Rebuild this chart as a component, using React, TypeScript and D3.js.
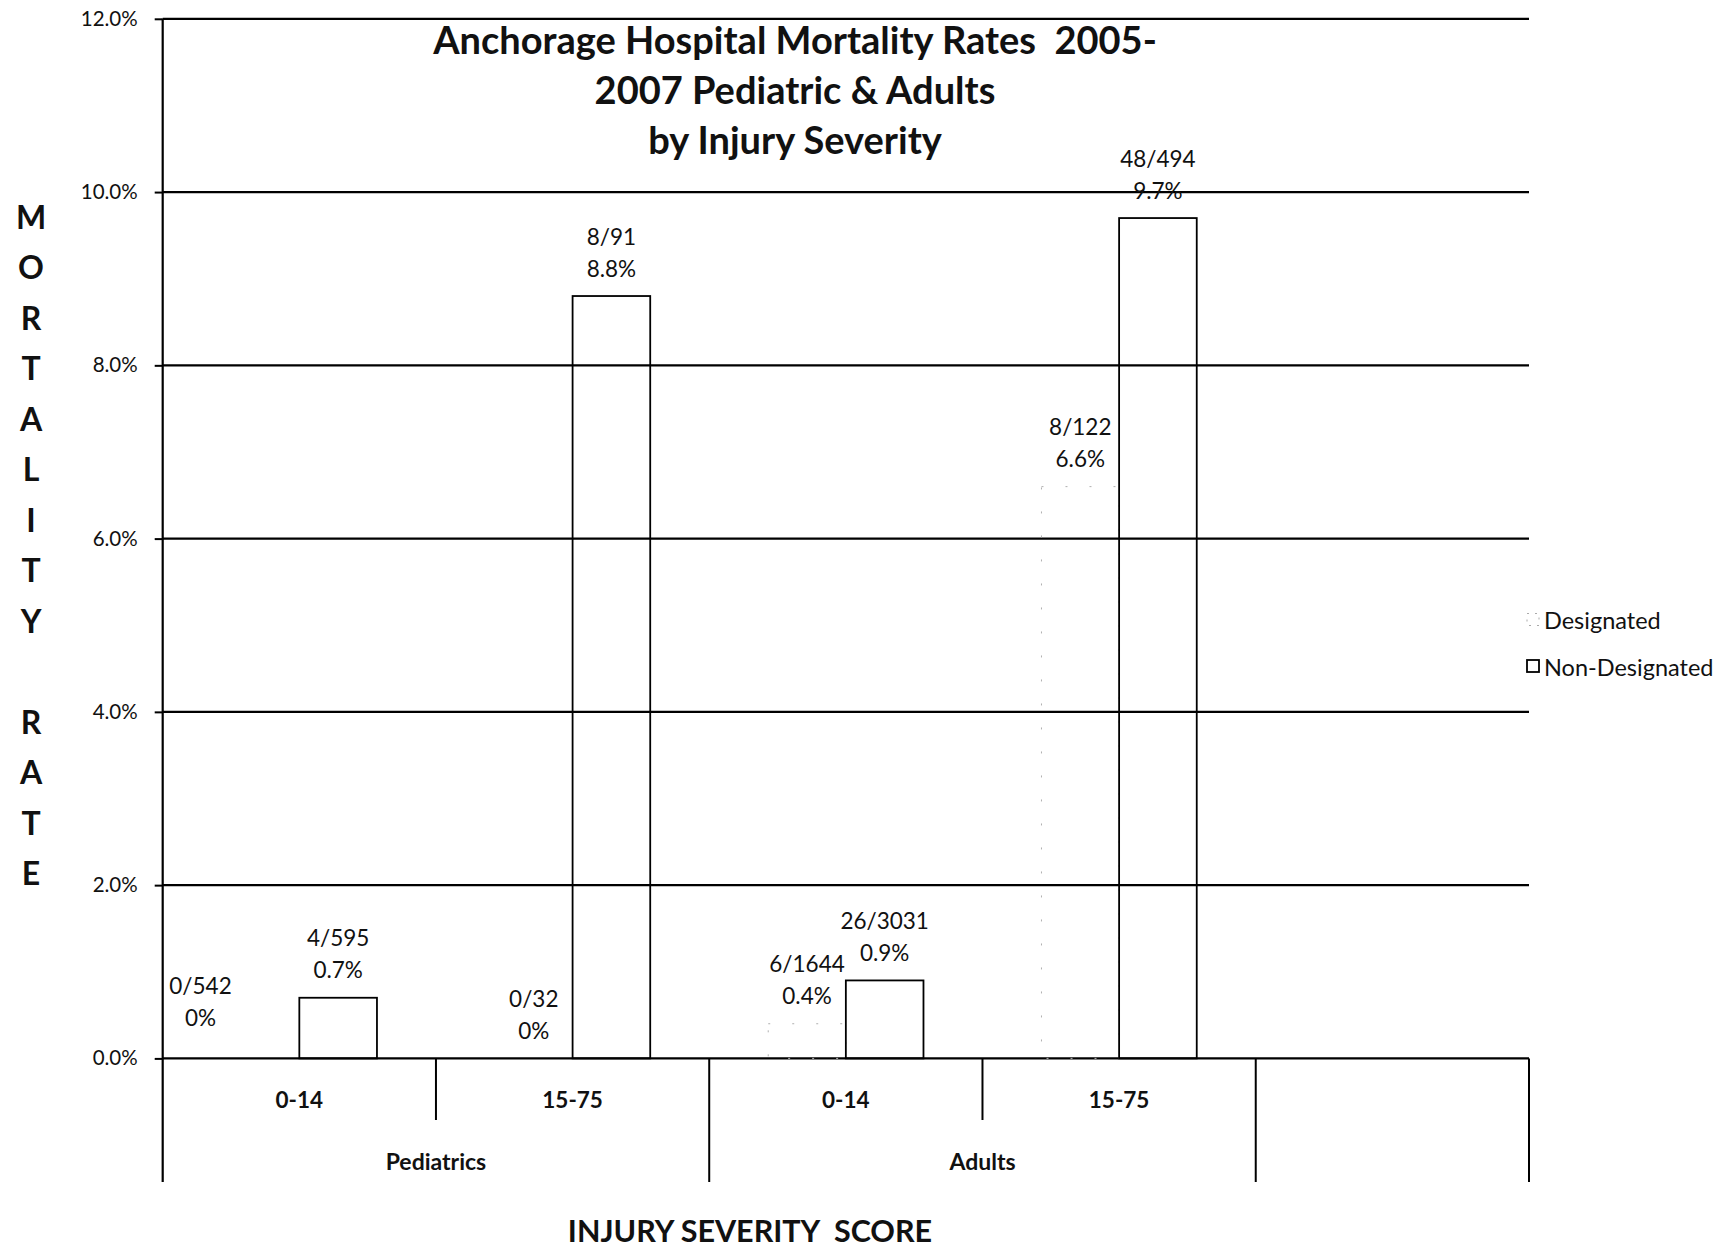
import { useEffect, useRef } from "react";
import * as d3 from "d3";

const groups = ["Pediatrics", "Adults"];
const severities = ["0-14", "15-75"];
const seriesNames = ["Designated", "Non-Designated"];
const designatedRates = [0, 0, 0.4, 6.6];
const nonDesignatedRates = [0.7, 8.8, 0.9, 9.7];
const designatedCounts = ["0/542", "0/32", "6/1644", "8/122"];
const nonDesignatedCounts = ["4/595", "8/91", "26/3031", "48/494"];
const yTicks = [0, 2, 4, 6, 8, 10, 12];
const titleLines = [
  "Anchorage Hospital Mortality Rates  2005-",
  "2007 Pediatric & Adults",
  "by Injury Severity",
];
const yTitle = "MORTALITY RATE";
const xTitle = "INJURY SEVERITY  SCORE";

const FONT = "Lato, 'Open Sans', sans-serif";

function App() {
  const ref = useRef(null);
  const width = 1736;
  const height = 1249;

  useEffect(() => {
    const svg = d3.select(ref.current);
    svg.selectAll("*").remove();

    const plot = { left: 162.7, right: 1529, top: 18.8, bottom: 1058.4 };
    const innerSepBottom = 1120;
    const outerSepBottom = 1182;

    // category slots: group|severity, plus an empty trailing slot
    const keys = [];
    groups.forEach((g) => severities.forEach((s) => keys.push(g + "|" + s)));
    const slots = [...keys, "blank"];

    const x0 = d3.scaleBand().domain(slots).range([plot.left, plot.right]).padding(0);
    const x1 = d3
      .scaleBand()
      .domain(seriesNames)
      .range([0, x0.bandwidth()])
      .paddingInner(0)
      .paddingOuter(0.76);
    const y = d3.scaleLinear().domain([0, 12]).range([plot.bottom, plot.top]);

    const fmt = (v) => (v === 0 ? "0%" : v.toFixed(1) + "%");

    // gridlines
    svg
      .append("g")
      .selectAll("line")
      .data(yTicks)
      .enter()
      .append("line")
      .attr("x1", plot.left)
      .attr("x2", plot.right)
      .attr("y1", (d) => y(d))
      .attr("y2", (d) => y(d))
      .attr("stroke", "#000")
      .attr("stroke-width", 2.2);

    // y-axis
    const yAxis = svg
      .append("g")
      .attr("transform", `translate(${plot.left}, 0)`)
      .call(
        d3
          .axisLeft(y)
          .tickValues(yTicks)
          .tickSize(8)
          .tickPadding(17)
          .tickFormat((d) => d3.format(".1f")(d) + "%")
      );
    yAxis.select(".domain").remove();
    yAxis.selectAll(".tick line").attr("stroke", "#000").attr("stroke-width", 2);
    yAxis
      .selectAll(".tick text")
      .attr("font-family", FONT)
      .attr("font-size", 20.5)
      .attr("fill", "#111");

    // bars
    const rows = keys.map((k, i) => ({
      key: k,
      values: [
        { series: seriesNames[0], value: designatedRates[i], count: designatedCounts[i] },
        { series: seriesNames[1], value: nonDesignatedRates[i], count: nonDesignatedCounts[i] },
      ],
    }));

    const groupsSel = svg
      .append("g")
      .selectAll("g")
      .data(rows)
      .enter()
      .append("g")
      .attr("transform", (d) => `translate(${x0(d.key)}, 0)`);

    groupsSel
      .selectAll("rect")
      .data((d) => d.values)
      .enter()
      .append("rect")
      .attr("x", (d) => x1(d.series))
      .attr("y", (d) => y(d.value))
      .attr("width", x1.bandwidth())
      .attr("height", (d) => plot.bottom - y(d.value))
      .attr("fill", "none")
      .attr("stroke", (d) => (d.series === "Designated" ? "#b0b0b0" : "#000"))
      .attr("stroke-width", (d) => (d.series === "Designated" ? 1 : 1.8))
      .attr("stroke-dasharray", (d) => (d.series === "Designated" ? "2,22" : null));

    // data labels (two lines: count and rate)
    rows.forEach((row, i) => {
      row.values.forEach((v) => {
        // the 0/542 label sits dragged left/up in the original
        const nudgeX = i === 0 && v.series === "Designated" ? -60 : 0;
        const nudgeY = i === 0 && v.series === "Designated" ? -13 : 0;
        const cx = x0(row.key) + x1(v.series) + x1.bandwidth() / 2 + nudgeX;
        const base = y(v.value) + nudgeY;
        [v.count, fmt(v.value)].forEach((t, j) => {
          svg
            .append("text")
            .attr("x", cx)
            .attr("y", base - 60 + j * 32)
            .attr("dominant-baseline", "central")
            .attr("text-anchor", "middle")
            .attr("font-family", FONT)
            .attr("font-size", 22.5)
            .attr("fill", "#111")
            .text(t);
        });
      });
    });

    // left axis line
    svg
      .append("line")
      .attr("x1", plot.left)
      .attr("x2", plot.left)
      .attr("y1", plot.top)
      .attr("y2", outerSepBottom)
      .attr("stroke", "#000")
      .attr("stroke-width", 2.2);

    // multi-level category separators
    slots.forEach((s, i) => {
      const innerSep = i % 2 === 0 && i < keys.length;
      const xr = x0(s) + x0.bandwidth();
      svg
        .append("line")
        .attr("x1", xr)
        .attr("x2", xr)
        .attr("y1", plot.bottom)
        .attr("y2", innerSep ? innerSepBottom : outerSepBottom)
        .attr("stroke", "#000")
        .attr("stroke-width", 2);
    });

    // severity labels
    keys.forEach((k) => {
      svg
        .append("text")
        .attr("x", x0(k) + x0.bandwidth() / 2)
        .attr("y", 1099)
        .attr("dominant-baseline", "central")
        .attr("text-anchor", "middle")
        .attr("font-family", FONT)
        .attr("font-weight", "bold")
        .attr("font-size", 22.5)
        .attr("fill", "#111")
        .text(k.split("|")[1]);
    });

    // group labels
    groups.forEach((g) => {
      svg
        .append("text")
        .attr("x", x0(g + "|" + severities[0]) + x0.bandwidth())
        .attr("y", 1161)
        .attr("dominant-baseline", "central")
        .attr("text-anchor", "middle")
        .attr("font-family", FONT)
        .attr("font-weight", "bold")
        .attr("font-size", 23)
        .attr("fill", "#111")
        .text(g);
    });

    // title
    titleLines.forEach((t, i) => {
      svg
        .append("text")
        .attr("x", 795)
        .attr("y", 39 + i * 49.8)
        .attr("dominant-baseline", "central")
        .attr("text-anchor", "middle")
        .attr("font-family", FONT)
        .attr("font-weight", "bold")
        .attr("font-size", 38)
        .attr("fill", "#111")
        .style("white-space", "pre")
        .text(t);
    });

    // y-axis title, stacked letters
    yTitle.split("").forEach((c, i) => {
      svg
        .append("text")
        .attr("x", 31)
        .attr("y", 216 + i * 50.5)
        .attr("dominant-baseline", "central")
        .attr("text-anchor", "middle")
        .attr("font-family", FONT)
        .attr("font-weight", "bold")
        .attr("font-size", 32)
        .attr("fill", "#111")
        .text(c);
    });

    // x-axis title
    svg
      .append("text")
      .attr("x", 750)
      .attr("y", 1230)
      .attr("dominant-baseline", "central")
      .attr("text-anchor", "middle")
      .attr("font-family", FONT)
      .attr("font-weight", "bold")
      .attr("font-size", 30.5)
      .attr("fill", "#111")
      .style("white-space", "pre")
      .text(xTitle);

    // legend
    const legend = svg.append("g");
    seriesNames.forEach((s, i) => {
      const cy = 620 + i * 46.5;
      legend
        .append("rect")
        .attr("x", 1527)
        .attr("y", cy - 6.5)
        .attr("width", 12)
        .attr("height", 12)
        .attr("fill", "none")
        .attr("stroke", s === "Designated" ? "#aaa" : "#000")
        .attr("stroke-width", s === "Designated" ? 1 : 1.8)
        .attr("stroke-dasharray", s === "Designated" ? "2,6" : null);
      legend
        .append("text")
        .attr("x", 1544)
        .attr("y", cy)
        .attr("dominant-baseline", "central")
        .attr("font-family", FONT)
        .attr("font-size", 23.5)
        .attr("fill", "#111")
        .text(s);
    });
  }, []);

  return (
    <svg
      ref={ref}
      width={width}
      height={height}
      style={{ position: "absolute", left: 0, top: 0, background: "#fff" }}
    />
  );
}

export default App;
